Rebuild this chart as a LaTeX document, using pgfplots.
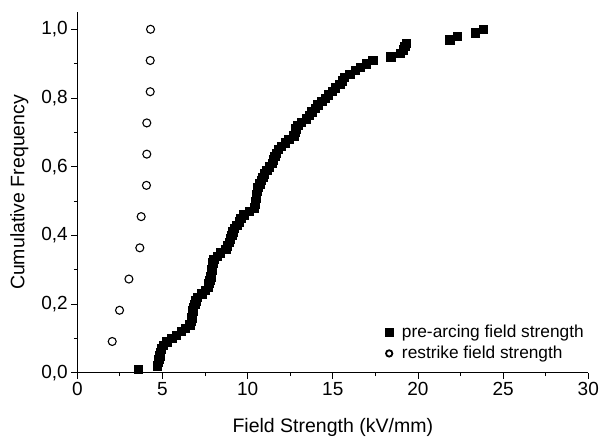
\documentclass[border=0pt]{standalone}
\usepackage{pgfplots}
\pgfplotsset{compat=1.18}
\usepackage{fontspec}
\setmainfont{Liberation Sans}

\pgfplotstableread{
x y
3.57 0.01
4.70 0.02
4.74 0.03
4.78 0.04
4.83 0.05
4.88 0.06
4.94 0.07
5.05 0.08
5.25 0.09
5.55 0.10
5.82 0.11
6.10 0.12
6.35 0.13
6.60 0.14
6.68 0.15
6.72 0.16
6.75 0.17
6.78 0.18
6.82 0.19
6.90 0.20
6.95 0.21
7.05 0.22
7.30 0.23
7.50 0.24
7.68 0.25
7.72 0.26
7.78 0.27
7.83 0.28
7.87 0.29
7.90 0.30
7.93 0.31
7.95 0.32
8.00 0.33
8.20 0.34
8.40 0.35
8.72 0.36
8.80 0.37
8.92 0.38
8.98 0.39
9.07 0.40
9.12 0.41
9.20 0.42
9.35 0.43
9.50 0.44
9.60 0.45
9.78 0.46
10.10 0.47
10.40 0.48
10.43 0.49
10.46 0.50
10.50 0.51
10.52 0.52
10.56 0.53
10.60 0.54
10.70 0.55
10.78 0.56
10.88 0.57
10.98 0.58
11.12 0.59
11.25 0.60
11.45 0.61
11.50 0.62
11.58 0.63
11.68 0.64
11.80 0.65
11.98 0.66
12.20 0.67
12.40 0.68
12.70 0.69
12.78 0.70
12.82 0.71
12.95 0.72
13.15 0.73
13.45 0.74
13.62 0.75
13.75 0.76
13.95 0.77
14.12 0.78
14.35 0.79
14.55 0.80
14.72 0.81
14.95 0.82
15.15 0.83
15.40 0.84
15.55 0.85
15.68 0.86
16.00 0.87
16.30 0.88
16.60 0.89
16.95 0.90
17.35 0.91
18.40 0.92
18.95 0.93
19.15 0.94
19.22 0.95
19.30 0.96
21.87 0.97
22.32 0.98
23.37 0.99
23.84 1.00
}\prearc

\pgfplotstableread{
x y
2.05 0.0909
2.48 0.1818
3.03 0.2727
3.67 0.3636
3.75 0.4545
4.06 0.5455
4.08 0.6364
4.08 0.7273
4.28 0.8182
4.28 0.9091
4.30 1.0000
}\restrike

\begin{document}
\begin{tikzpicture}
\begin{axis}[
  scale only axis,
  width=511pt, height=360.6pt,
  xmin=0, xmax=30, ymin=0, ymax=1.05,
  axis lines*=left,
  axis line style={line width=0.8pt},
  xtick={0,5,...,30},
  ytick={0,0.2,0.4,0.6,0.8,1.0},
  minor x tick num=1, minor y tick num=1,
  tick align=outside,
  major tick length=6pt, minor tick length=3.5pt,
  tick style={line width=0.8pt, black},
  xticklabel style={/pgf/number format/assume math mode=true, font=\fontsize{19}{22}\selectfont},
  yticklabel style={/pgf/number format/assume math mode=true,
    /pgf/number format/fixed, /pgf/number format/fixed zerofill,
    /pgf/number format/precision=1, /pgf/number format/use comma,
    font=\fontsize{19}{22}\selectfont},
  xlabel={Field Strength (kV/mm)},
  ylabel={Cumulative Frequency},
  label style={font=\fontsize{19.5}{23}\selectfont},
  xlabel style={at={(axis description cs:0.5,0)}, anchor=center, yshift=-55pt},
  ylabel style={at={(axis description cs:0,0.5)}, anchor=center, yshift=58pt},
  legend style={draw=none, fill=none, at={(axis cs:17.9,0.150)}, anchor=north west,
    font=\fontsize{17.3}{20}\selectfont, row sep=3pt, column sep=7pt},
  legend cell align=left,
]
\addplot[only marks, mark=square*, mark size=4.2pt, black,
  legend image post style={mark size=3.8pt}] table {\prearc};
\addlegendentry{pre-arcing field strength}
\addplot[only marks, mark=o, mark size=4pt, line width=1.1pt, black,
  legend image post style={mark size=3.2pt, line width=1.8pt}] table {\restrike};
\addlegendentry{restrike field strength}
\end{axis}
\pgfresetboundingbox
\useasboundingbox (-77.3pt,-64.3pt) rectangle (522.7pt,372.7pt);
\end{tikzpicture}
\end{document}
